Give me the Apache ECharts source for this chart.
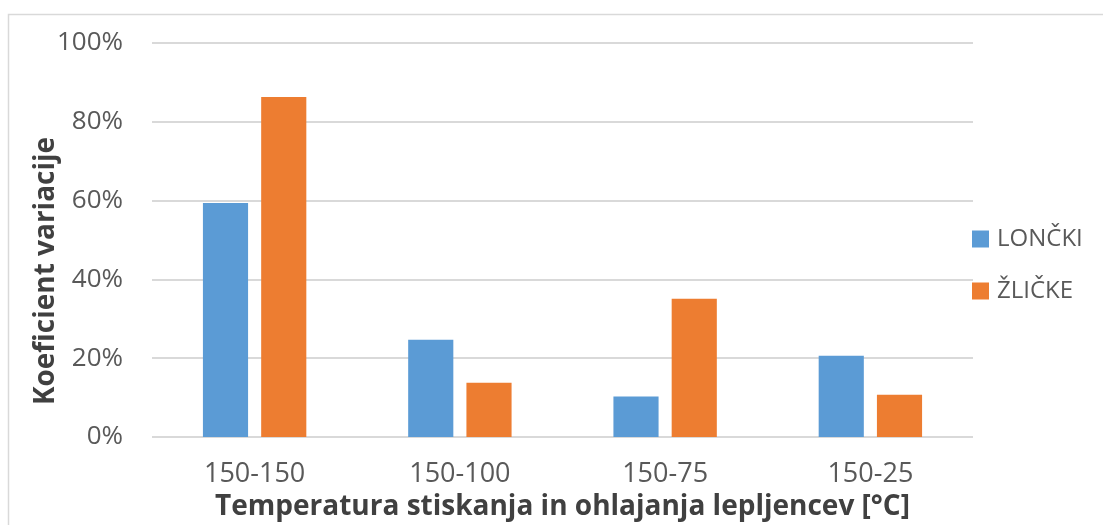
<!DOCTYPE html>
<html>
<head>
<meta charset="utf-8">
<script src="https://cdn.jsdelivr.net/npm/echarts@6/dist/echarts.min.js"></script>
<style>
  html, body { margin: 0; padding: 0; background: #fff; }
  #chart { width: 1103px; height: 525px; }
</style>
</head>
<body>
<div id="chart"></div>
<script>
// Temperature pairs (pressing - cooling) and coefficient of variation in %
const categories = ['150-150', '150-100', '150-75', '150-25'];
const loncki = [59.4, 24.7, 10.3, 20.6];
const zlicke = [86.3, 13.8, 35.1, 10.7];
const seriesNames = ['LONČKI', 'ŽLIČKE'];
const xTitle = 'Temperatura stiskanja in ohlajanja lepljencev [°C]';
const yTitle = 'Koeficient variacije';

const FONT = '"Open Sans", "Noto Sans", sans-serif';
const chart = echarts.init(document.getElementById('chart'), null, { renderer: 'canvas' });

chart.setOption({
  animation: false,
  backgroundColor: '#fff',
  textStyle: { fontFamily: FONT },
  grid: { left: 152, right: 130, top: 43, bottom: 88, containLabel: false, outerBoundsMode: 'none' },
  legend: {
    orient: 'vertical',
    left: 967,
    top: 222,
    itemWidth: 17,
    itemHeight: 17,
    itemGap: 28,
    icon: 'rect',
    data: seriesNames,
    textStyle: { color: '#595959', fontSize: 24, fontFamily: FONT, padding: [0, 0, 0, 3] }
  },
  xAxis: {
    type: 'category',
    data: categories,
    axisLine: { show: false },
    axisTick: { show: false },
    axisLabel: { color: '#595959', fontSize: 27, fontFamily: FONT, margin: 24 },
    name: xTitle,
    nameLocation: 'middle',
    nameGap: 55,
    nameTextStyle: { color: '#404040', fontSize: 28, fontWeight: 'bold', fontFamily: FONT }
  },
  yAxis: {
    type: 'value',
    min: 0,
    max: 100,
    interval: 20,
    axisLine: { show: false },
    axisTick: { show: false },
    axisLabel: { color: '#595959', fontSize: 26, fontFamily: FONT, margin: 29, formatter: '{value}%' },
    splitLine: { lineStyle: { color: '#d9d9d9', width: 2 } }
  },
  graphic: [
    {
      type: 'rect',
      shape: { x: 8.5, y: 14.5, width: 1200, height: 600 },
      style: { fill: 'none', stroke: '#d9d9d9', lineWidth: 1.5 },
      silent: true
    },
    {
      type: 'text',
      x: 46,
      y: 271,
      rotation: Math.PI / 2,
      style: {
        text: yTitle,
        fill: '#404040',
        font: 'bold 28px ' + FONT,
        align: 'center',
        verticalAlign: 'middle'
      }
    }
  ],
  series: [
    {
      name: seriesNames[0],
      type: 'bar',
      data: loncki,
      barWidth: '22%',
      barGap: '29%',
      itemStyle: { color: '#5b9bd5' }
    },
    {
      name: seriesNames[1],
      type: 'bar',
      data: zlicke,
      barWidth: '22%',
      barGap: '29%',
      itemStyle: { color: '#ed7d31' }
    }
  ]
});
</script>
</body>
</html>
